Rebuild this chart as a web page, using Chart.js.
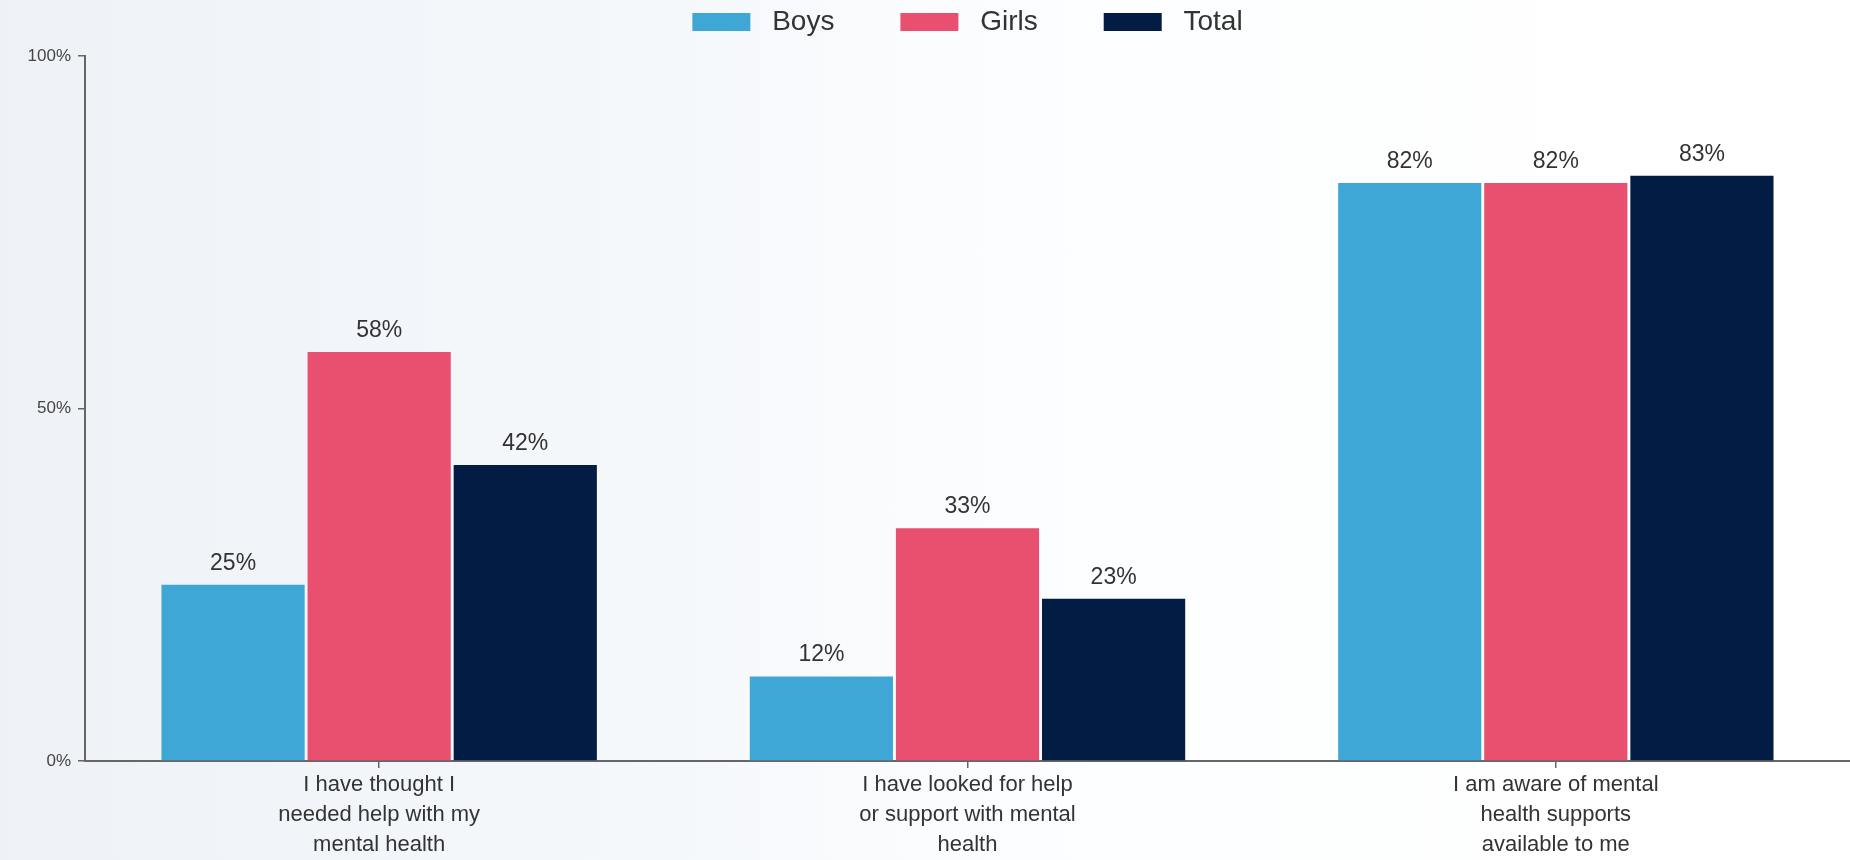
<!DOCTYPE html>
<html lang="en">
<head>
  <meta charset="UTF-8">
  <title>Mental health help by gender</title>
  <script src="https://cdn.jsdelivr.net/npm/chart.js"></script>
  <style>
    html, body { margin: 0; padding: 0; }
    body {
      width: 1850px; height: 860px; overflow: hidden;
      background: linear-gradient(90deg, #eef2f7 0%, #f5f8fb 35%, #fdfeff 60%, #ffffff 100%);
    }
    #wrap { position: relative; width: 1850px; height: 860px; }
  </style>
</head>
<body>
  <div id="wrap"><canvas id="chart"></canvas></div>

  <script>
    const categories = [
      ['I have thought I', 'needed help with my', 'mental health'],
      ['I have looked for help', 'or support with mental', 'health'],
      ['I am aware of mental', 'health supports', 'available to me']
    ];
    const boys = [25, 12, 82];
    const girls = [58, 33, 82];
    const total = [42, 23, 83];
    const yTicks = [0, 50, 100];

    const FONT = '"Liberation Sans", Arial, sans-serif';

    // draws the "xx%" value above every bar
    const valueLabels = {
      id: 'valueLabels',
      afterDatasetsDraw(chart) {
        const ctx = chart.ctx;
        ctx.save();
        ctx.font = '23px ' + FONT;
        ctx.fillStyle = '#333';
        ctx.textAlign = 'center';
        ctx.textBaseline = 'alphabetic';
        chart.data.datasets.forEach((ds, i) => {
          chart.getDatasetMeta(i).data.forEach((bar, j) => {
            ctx.fillText(ds.data[j] + '%', bar.x, bar.y - 15);
          });
        });
        ctx.restore();
      }
    };

    new Chart(document.getElementById('chart'), {
      type: 'bar',
      data: {
        labels: categories,
        datasets: [
          { label: 'Boys', data: boys, backgroundColor: '#3fa7d6' },
          { label: 'Girls', data: girls, backgroundColor: '#e9506f' },
          { label: 'Total', data: total, backgroundColor: '#031c43' }
        ]
      },
      options: {
        responsive: true,
        maintainAspectRatio: false,
        animation: false,
        categoryPercentage: 0.745,
        barPercentage: 0.98,
        // legend padding is large for the wide item gaps, so pull it up
        layout: { padding: { top: -58, right: 0, bottom: 0, left: 0 } },
        plugins: {
          legend: {
            display: true,
            position: 'top',
            fullSize: false,
            labels: {
              boxWidth: 58,
              boxHeight: 18,
              padding: 66,
              color: '#333',
              font: { size: 28, family: FONT },
              // a bit more room between swatch and text
              generateLabels: chart => Chart.defaults.plugins.legend.labels.generateLabels(chart)
                .map(l => ({ ...l, text: ' ' + l.text }))
            }
          },
          // empty spacer between legend and plot
          subtitle: {
            display: true,
            text: '',
            weight: 500,
            font: { size: 1, lineHeight: 1 },
            padding: { top: 0, bottom: 9 }
          },
          tooltip: { enabled: false }
        },
        scales: {
          x: {
            grid: { display: true, drawOnChartArea: false, offset: false, tickLength: 7, color: '#666', lineWidth: 1.5 },
            border: { display: true, color: '#666', width: 2 },
            ticks: { color: '#333', padding: 2, font: { size: 22, family: FONT, lineHeight: 1.36 } },
            afterFit: s => { s.height = 99; }
          },
          y: {
            min: 0,
            max: 100,
            afterBuildTicks: s => { s.ticks = yTicks.map(v => ({ value: v })); },
            grid: { display: true, drawOnChartArea: false, tickLength: 7, color: '#666', lineWidth: 1.5 },
            border: { display: true, color: '#666', width: 2 },
            ticks: { color: '#444', padding: 7, font: { size: 17, family: FONT }, callback: v => v + '%' },
            afterFit: s => { s.width = 85; }
          }
        }
      },
      plugins: [valueLabels]
    });
  </script>
</body>
</html>
